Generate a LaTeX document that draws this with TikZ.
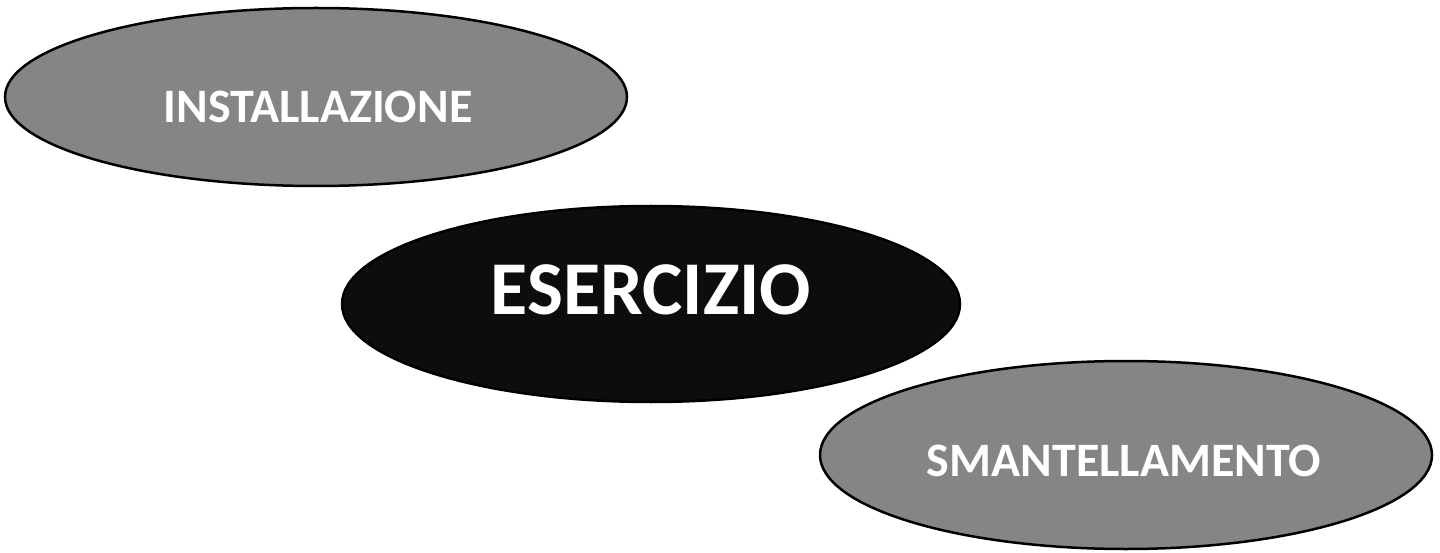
\documentclass[tikz,border=0pt]{standalone}
\usepackage{fontspec}
\setmainfont{Carlito}
\usetikzlibrary{shapes.geometric}
\definecolor{speckle}{HTML}{858585}
\tikzset{
  phase/.style={ellipse, draw=black, line width=2.5pt, fill=speckle, inner sep=0pt},
  mainphase/.style={phase, fill=black!95},
  phasetext/.style={text=white, font=\bfseries\fontsize{48}{50}\selectfont},
  maintext/.style={text=white, font=\bfseries\fontsize{76}{80}\selectfont}
}
\begin{document}
\begin{tikzpicture}[x=1pt,y=-1pt]
\useasboundingbox (0,0) rectangle (1440,553);
\node[phase, minimum width=622pt, minimum height=178pt] (inst) at (316,97) {};
\node[phasetext] (instt) at (318,107) {INSTALLAZIONE};
\node[mainphase, minimum width=618pt, minimum height=196pt] (eser) at (651,304) {};
\node[maintext] (esert) at (651,290) {ESERCIZIO};
\node[phase, minimum width=612pt, minimum height=188pt] (sman) at (1126,455) {};
\node[phasetext] (smant) at (1124,461) {SMANTELLAMENTO};
\end{tikzpicture}
\end{document}
